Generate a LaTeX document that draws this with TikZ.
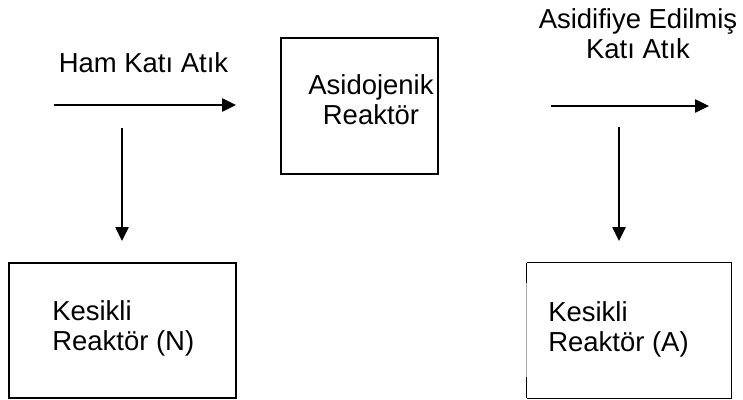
\documentclass[tikz,border=0pt]{standalone}
\usepackage{fontspec}
\setmainfont{Liberation Sans}
\usetikzlibrary{arrows.meta,calc}
\begin{document}
\begin{tikzpicture}[x=0.75pt,y=-0.75pt,
  lbl/.style={inner sep=0pt, font=\fontsize{20.6}{22}\selectfont},
  box/.style={draw, line width=1.1pt, inner sep=0pt},
  flow/.style={line width=1.1pt, -{Triangle[length=10.5pt,width=10pt]}}]
\useasboundingbox (0,0) rectangle (743,400);

% reactor boxes
\node[box, minimum width=157*0.75pt, minimum height=136*0.75pt] (asd) at (359.5,106) {};
\node[box, minimum width=227*0.75pt, minimum height=135*0.75pt] (kn) at (122.5,330.5) {};
\node[draw=none, minimum width=204*0.75pt, minimum height=135*0.75pt] (ka) at (629,330.5) {};
\draw[line width=1.1pt] (ka.north west) -- (ka.north east) -- (ka.south east) -- (ka.south west);
\draw[line width=1.1pt] (ka.north west) -- ++(0,20);
\draw[line width=1.1pt] (ka.south west) -- ++(0,-21);
\draw[line width=0.6pt, black!35] ($(ka.north west)+(0,20)$) -- ($(ka.south west)+(0,-21)$);

% box texts (base anchor sits on the last line)
\node[lbl, align=center, anchor=base] (asdt) at (371,124) {Asidojenik\\Reaktör};
\node[lbl, align=left, anchor=base west] (knt) at (52,350) {Kesikli\\Reaktör (N)};
\node[lbl, align=left, anchor=base west] (kat) at (548,351) {Kesikli\\Reaktör (A)};

% stream labels
\node[lbl, anchor=base] (ham) at (143.5,72) {Ham Katı Atık};
\node[lbl, align=center, anchor=base] (acd) at (638,58) {Asidifiye Edilmiş\\Katı Atık};

% flow arrows
\coordinate (a1s) at (54,105);
\coordinate (a1e) at (236,105);
\coordinate (d1s) at (122,128);
\coordinate (d1e) at (122,241);
\coordinate (a2s) at (551,106);
\coordinate (a2e) at (709,106);
\coordinate (d2s) at (619,127);
\coordinate (d2e) at (619,241);
\draw[flow] (a1s) -- (a1e);
\draw[flow] (d1s) -- (d1e);
\draw[flow] (a2s) -- (a2e);
\draw[flow] (d2s) -- (d2e);
\end{tikzpicture}
\end{document}
